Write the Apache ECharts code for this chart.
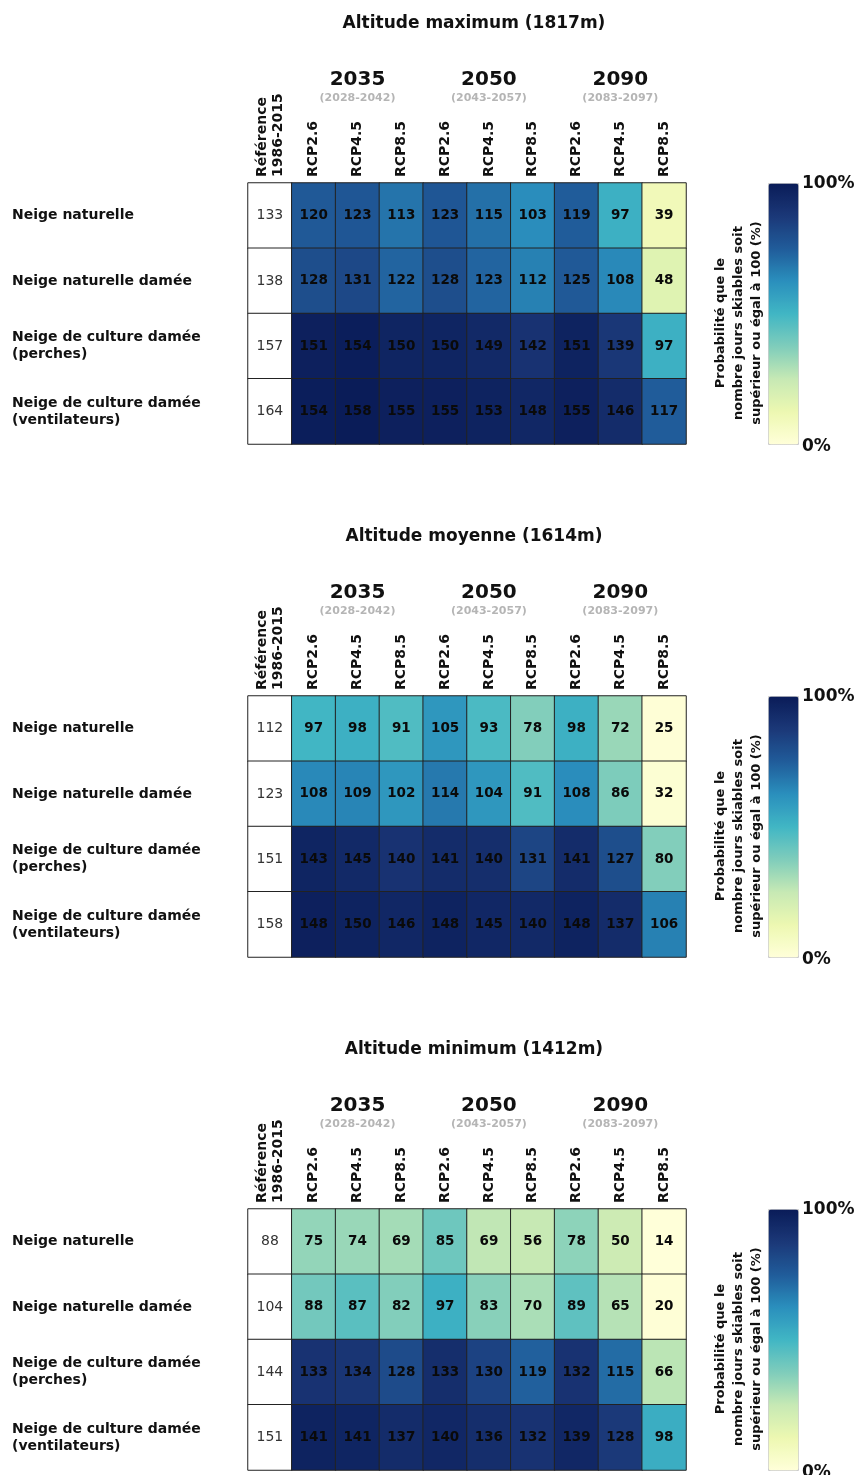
<!DOCTYPE html>
<html>
<head>
<meta charset="utf-8">
<script src="https://cdn.jsdelivr.net/npm/echarts@6/dist/echarts.min.js"></script>
<style>
html,body{margin:0;padding:0;background:#fff;}
#chart{width:859px;height:1475px;}
</style>
</head>
<body>
<div id="chart"></div>
<script>
const panelTitles = ['Altitude maximum (1817m)', 'Altitude moyenne (1614m)', 'Altitude minimum (1412m)'];
const rowLabels = ['Neige naturelle', 'Neige naturelle damée', 'Neige de culture damée\n(perches)', 'Neige de culture damée\n(ventilateurs)'];
const colLabels = ['Référence\n1986-2015', 'RCP2.6', 'RCP4.5', 'RCP8.5', 'RCP2.6', 'RCP4.5', 'RCP8.5', 'RCP2.6', 'RCP4.5', 'RCP8.5'];
const periods = ['2035', '2050', '2090'];
const periodRanges = ['(2028-2042)', '(2043-2057)', '(2083-2097)'];

// Reference (1986-2015) days per row
const refMax = [133, 138, 157, 164];
const refMoy = [112, 123, 151, 158];
const refMin = [88, 104, 144, 151];

// Median ski days per scenario (rows x 9 columns)
const daysMax = [
  [120, 123, 113, 123, 115, 103, 119, 97, 39],
  [128, 131, 122, 128, 123, 112, 125, 108, 48],
  [151, 154, 150, 150, 149, 142, 151, 139, 97],
  [154, 158, 155, 155, 153, 148, 155, 146, 117]
];
const daysMoy = [
  [97, 98, 91, 105, 93, 78, 98, 72, 25],
  [108, 109, 102, 114, 104, 91, 108, 86, 32],
  [143, 145, 140, 141, 140, 131, 141, 127, 80],
  [148, 150, 146, 148, 145, 140, 148, 137, 106]
];
const daysMin = [
  [75, 74, 69, 85, 69, 56, 78, 50, 14],
  [88, 87, 82, 97, 83, 70, 89, 65, 20],
  [133, 134, 128, 133, 130, 119, 132, 115, 66],
  [141, 141, 137, 140, 136, 132, 139, 128, 98]
];

// Probability (%) that ski days >= 100 (cell colour)
const probMax = [
  [76, 77, 69, 77, 70, 63, 75, 52, 10],
  [80, 82, 73, 80, 73, 66, 76, 64, 17],
  [98, 99, 96, 96, 94, 90, 97, 88, 52],
  [99, 100, 98, 98, 97, 95, 98, 93, 75]
];
const probMoy = [
  [50, 52, 47, 60, 48, 37, 52, 33, 1],
  [64, 65, 60, 68, 60, 47, 63, 38, 2],
  [96, 94, 90, 93, 92, 83, 93, 80, 37],
  [98, 97, 95, 97, 95, 94, 97, 93, 66]
];
const probMin = [
  [34, 33, 31, 41, 26, 25, 35, 23, 0],
  [40, 45, 37, 52, 36, 30, 44, 28, 1],
  [90, 89, 81, 92, 84, 74, 90, 71, 27],
  [97, 96, 93, 95, 92, 90, 95, 87, 53]
];

const refs = [refMax, refMoy, refMin];
const days = [daysMax, daysMoy, daysMin];
const probs = [probMax, probMoy, probMin];

const palette = ['#ffffd9', '#edf8b1', '#c7e9b4', '#7fcdbb', '#41b6c4', '#2a8fbd', '#205c9a', '#1b3878', '#0a1c58'];
const FONT = 'DejaVu Sans';
const STEP = 513;
const GRID_TOP = 183;
const GRID_H = 261;

const grids = [], xAxes = [], yAxes = [], series = [], visualMaps = [], titles = [], graphics = [];

for (let p = 0; p < 3; p++) {
  const off = STEP * p;
  titles.push({
    text: panelTitles[p], left: 469, top: 10 + off, textAlign: 'center',
    textStyle: {fontFamily: FONT, fontWeight: 'bold', fontSize: 17, color: '#111'}
  });
  grids.push({left: 248, top: GRID_TOP + off, width: 438, height: GRID_H});
  xAxes.push({
    type: 'category', gridIndex: p, data: colLabels, position: 'top',
    axisLine: {show: false}, axisTick: {show: false}, splitLine: {show: false},
    axisLabel: {interval: 0, rotate: -90, margin: 6, fontFamily: FONT, fontWeight: 'bold', fontSize: 14, color: '#111', lineHeight: 16}
  });
  const periodData = colLabels.map((c, i) => (i % 3 === 2 ? String(Math.floor(i / 3)) : ''));
  xAxes.push({
    type: 'category', gridIndex: p, data: periodData, position: 'top', offset: 72,
    axisLine: {show: false}, axisTick: {show: false}, splitLine: {show: false},
    axisLabel: {
      interval: 0, margin: 6,
      formatter: v => (v === '' ? '' : '{y|' + periods[+v] + '}\n{r|' + periodRanges[+v] + '}'),
      rich: {
        y: {fontFamily: FONT, fontWeight: 'bold', fontSize: 20, color: '#111', lineHeight: 22},
        r: {fontFamily: FONT, fontWeight: 'bold', fontSize: 11, color: '#b5b5b5', lineHeight: 14}
      }
    }
  });
  yAxes.push({
    type: 'category', gridIndex: p, data: rowLabels, inverse: true,
    axisLine: {show: false}, axisTick: {show: false}, splitLine: {show: false},
    axisLabel: {align: 'left', margin: 236, fontFamily: FONT, fontWeight: 'bold', fontSize: 14, color: '#111', lineHeight: 17}
  });
  const refData = refs[p].map((v, r) => [0, r, v]);
  const scenData = [];
  for (let r = 0; r < 4; r++) {
    for (let c = 0; c < 9; c++) scenData.push([c + 1, r, probs[p][r][c], days[p][r][c]]);
  }
  series.push({
    type: 'heatmap', xAxisIndex: 2 * p, yAxisIndex: p, data: refData,
    itemStyle: {color: '#ffffff', borderColor: '#222', borderWidth: 1},
    label: {show: true, formatter: q => q.value[2], fontFamily: FONT, fontSize: 14, color: '#333'},
    emphasis: {disabled: true}
  });
  series.push({
    type: 'heatmap', xAxisIndex: 2 * p, yAxisIndex: p, data: scenData,
    itemStyle: {borderColor: '#222', borderWidth: 1},
    label: {show: true, formatter: q => q.value[3], fontFamily: FONT, fontWeight: 'bold', fontSize: 13.5, color: '#0a0a0a'},
    emphasis: {disabled: true}
  });
  visualMaps.push({
    type: 'continuous', min: 0, max: 100, dimension: 2, seriesIndex: 2 * p + 1,
    left: 768, top: GRID_TOP + off, itemWidth: 30, itemHeight: GRID_H, padding: 0,
    calculable: false, realtime: false, text: null, showLabel: false,
    borderColor: '#cccccc', borderWidth: 1,
    inRange: {color: palette}
  });
  graphics.push({
    type: 'text', left: 802, top: GRID_TOP + off - 8,
    style: {text: '100%', font: 'bold 17px "' + FONT + '"', fill: '#111'}
  });
  graphics.push({
    type: 'text', left: 802, top: GRID_TOP + off + GRID_H - 6,
    style: {text: '0%', font: 'bold 17px "' + FONT + '"', fill: '#111'}
  });
  graphics.push({
    type: 'text', x: 739, y: GRID_TOP + off + 140, rotation: Math.PI / 2,
    style: {
      text: 'Probabilité que le\nnombre jours skiables soit\nsupérieur ou égal à 100 (%)',
      font: 'bold 13px "' + FONT + '"', fill: '#111', align: 'center', verticalAlign: 'middle', lineHeight: 18
    }
  });
}

const chart = echarts.init(document.getElementById('chart'), null, {renderer: 'canvas'});
chart.setOption({
  animation: false,
  backgroundColor: '#ffffff',
  title: titles,
  grid: grids,
  xAxis: xAxes,
  yAxis: yAxes,
  visualMap: visualMaps,
  series: series,
  graphic: graphics
});
</script>
</body>
</html>
